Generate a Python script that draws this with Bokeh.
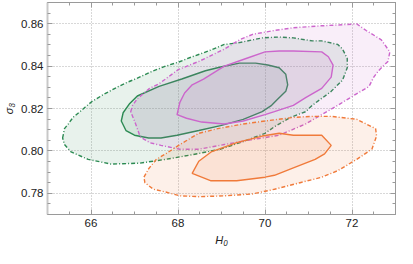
from bokeh.plotting import figure
from bokeh.models import LinearAxis, Range1d, FixedTicker, NumeralTickFormatter, CustomJSTickFormatter
from bokeh.embed import file_html
from bokeh.resources import INLINE

# ---- data (H0, sigma8) contour outlines ----
green_outer_h0 = [65.348, 65.391, 65.478, 65.587, 65.717, 65.870, 66.022, 66.304, 66.587, 66.804, 67.065, 67.391,
                  67.717, 68.000, 68.326, 68.696, 69.065, 69.413, 69.935, 70.326, 70.652, 71.087, 71.304, 71.674,
                  71.783, 71.891, 71.891, 71.783, 71.522, 71.087, 70.935, 70.587, 70.217, 70.000, 69.500, 68.978,
                  68.326, 67.717, 67.109, 66.457, 65.935, 65.543, 65.391]
green_outer_s8 = [0.8061, 0.8105, 0.8127, 0.8158, 0.8180, 0.8207, 0.8233, 0.8268, 0.8299, 0.8321, 0.8343, 0.8374,
                  0.8400, 0.8418, 0.8444, 0.8471, 0.8502, 0.8511, 0.8533, 0.8537, 0.8533, 0.8519, 0.8519, 0.8502,
                  0.8480, 0.8436, 0.8392, 0.8334, 0.8281, 0.8215, 0.8185, 0.8158, 0.8114, 0.8083, 0.8044, 0.8008,
                  0.7982, 0.7960, 0.7942, 0.7938, 0.7960, 0.7995, 0.8030]

green_inner_h0 = [66.696, 66.739, 66.891, 67.065, 67.565, 68.087, 68.630, 68.978, 69.413, 69.783, 70.065, 70.326,
                  70.478, 70.522, 70.478, 70.283, 70.152, 69.935, 69.500, 68.978, 68.478, 67.978, 67.609, 67.326,
                  67.000, 66.804]
green_inner_s8 = [0.8141, 0.8180, 0.8224, 0.8259, 0.8304, 0.8339, 0.8378, 0.8396, 0.8414, 0.8414, 0.8405, 0.8392,
                  0.8361, 0.8312, 0.8281, 0.8242, 0.8215, 0.8185, 0.8149, 0.8119, 0.8096, 0.8074, 0.8061, 0.8061,
                  0.8074, 0.8096]

magenta_outer_h0 = [66.913, 66.957, 67.065, 67.348, 67.565, 67.826, 68.000, 68.478, 69.065, 69.413, 69.717, 70.217,
                    70.652, 71.304, 71.674, 72.109, 72.326, 72.674, 72.870, 72.826, 72.609, 72.500, 72.391, 72.022,
                    71.674, 71.304, 70.935, 70.326, 69.674, 69.065, 68.478, 68.043, 67.609, 67.348, 67.130, 67.065,
                    67.000]
magenta_outer_s8 = [0.8185, 0.8215, 0.8246, 0.8295, 0.8317, 0.8356, 0.8383, 0.8422, 0.8480, 0.8524, 0.8550, 0.8568,
                    0.8581, 0.8590, 0.8594, 0.8599, 0.8568, 0.8524, 0.8467, 0.8422, 0.8378, 0.8348, 0.8304, 0.8259,
                    0.8215, 0.8171, 0.8127, 0.8074, 0.8052, 0.8030, 0.8008, 0.8008, 0.8026, 0.8039, 0.8066, 0.8105,
                    0.8141]

magenta_inner_h0 = [67.978, 68.043, 68.152, 68.326, 68.587, 69.065, 69.565, 70.000, 70.326, 70.652, 71.304, 71.457,
                    71.565, 71.522, 71.304, 70.935, 70.652, 70.217, 70.000, 69.500, 69.065, 68.543, 68.196]
magenta_inner_s8 = [0.8171, 0.8229, 0.8273, 0.8312, 0.8339, 0.8400, 0.8436, 0.8467, 0.8471, 0.8471, 0.8467, 0.8444,
                    0.8405, 0.8348, 0.8295, 0.8251, 0.8215, 0.8185, 0.8171, 0.8141, 0.8127, 0.8136, 0.8154]

orange_outer_h0 = [67.217, 67.326, 67.500, 67.717, 68.043, 68.478, 68.913, 69.500, 70.000, 70.652, 71.087, 71.522,
                   72.109, 72.543, 72.565, 72.457, 72.109, 71.674, 71.304, 70.804, 70.217, 69.717, 69.065, 68.478,
                   68.043, 67.717, 67.435, 67.239]
orange_outer_s8 = [0.7876, 0.7916, 0.7960, 0.7986, 0.8030, 0.8083, 0.8105, 0.8127, 0.8141, 0.8158, 0.8163, 0.8163,
                   0.8149, 0.8105, 0.8070, 0.8008, 0.7960, 0.7907, 0.7876, 0.7850, 0.7819, 0.7797, 0.7788, 0.7784,
                   0.7788, 0.7806, 0.7819, 0.7850]

orange_inner_h0 = [68.326, 68.478, 68.761, 69.348, 69.935, 70.326, 70.652, 71.304, 71.522, 71.370, 71.152, 70.652,
                   70.217, 70.000, 69.348, 68.761]
orange_inner_s8 = [0.7894, 0.7951, 0.7995, 0.8039, 0.8070, 0.8083, 0.8074, 0.8074, 0.8026, 0.7986, 0.7960, 0.7920,
                   0.7885, 0.7876, 0.7859, 0.7859]

x_ticks = [66, 68, 70, 72]
y_ticks = [0.78, 0.80, 0.82, 0.84, 0.86]
x_label = "H₀"
y_label = "σ₈"

GREEN = "#2b8a52"
MAGENTA = "#cc66cc"
ORANGE = "#f07a3a"
FRAME = "#9a9a9a"
FONT = "Liberation Sans"

p = figure(width=397, height=248, output_backend="svg", toolbar_location=None,
           x_range=Range1d(65, 73), y_range=Range1d(0.77, 0.87),
           min_border_left=0, min_border_right=2, min_border_top=2, min_border_bottom=0,
           x_axis_label=x_label, y_axis_label=y_label)
p.background_fill_color = "white"
p.outline_line_color = FRAME
p.outline_line_width = 1

for g in (p.xgrid[0], p.ygrid[0]):
    g.grid_line_color = "#b0b0b0"
    g.grid_line_dash = "1 2"
    g.grid_line_width = 1
p.xgrid[0].ticker = FixedTicker(ticks=x_ticks)
p.ygrid[0].ticker = FixedTicker(ticks=y_ticks)

x_minor = [65 + 0.5 * i for i in range(17)]
y_minor = [round(0.77 + 0.005 * i, 3) for i in range(21)]

def style_axis(ax, ticks, minor):
    ax.ticker = FixedTicker(ticks=ticks, minor_ticks=minor)
    ax.axis_line_color = FRAME
    ax.major_tick_line_color = FRAME
    ax.minor_tick_line_color = FRAME
    ax.major_tick_in = 5
    ax.major_tick_out = 0
    ax.minor_tick_in = 3
    ax.minor_tick_out = 0
    ax.major_label_text_font = FONT
    ax.major_label_text_font_size = "11.5px"
    ax.major_label_text_color = "#222222"
    ax.major_label_standoff = 4
    ax.axis_label_text_font = FONT
    ax.axis_label_text_font_size = "11px"
    ax.axis_label_text_font_style = "italic"
    ax.axis_label_text_color = "#222222"
    ax.axis_label_standoff = 4

style_axis(p.xaxis[0], x_ticks, x_minor)
style_axis(p.yaxis[0], y_ticks, y_minor)
p.yaxis[0].formatter = NumeralTickFormatter(format="0.00")
p.yaxis[0].axis_line_width = 2
p.yaxis[0].axis_line_color = "#c8c8c8"
p.yaxis[0].axis_label_standoff = 3

blank = CustomJSTickFormatter(code="return ''")
top = LinearAxis(formatter=blank)
style_axis(top, x_ticks, x_minor)
top.major_label_standoff = 0
p.add_layout(top, "above")
right = LinearAxis(formatter=blank)
style_axis(right, y_ticks, y_minor)
right.major_label_standoff = 0
p.add_layout(right, "right")

DASHDOT = "4 2 1 2"

def contour(xs, ys, color, dash):
    p.patch(xs, ys, fill_color=color, fill_alpha=0.11, line_color=color,
            line_width=1.4, line_dash=dash)

contour(green_outer_h0, green_outer_s8, GREEN, DASHDOT)
contour(green_inner_h0, green_inner_s8, GREEN, "solid")
contour(magenta_outer_h0, magenta_outer_s8, MAGENTA, DASHDOT)
contour(magenta_inner_h0, magenta_inner_s8, MAGENTA, "solid")
contour(orange_outer_h0, orange_outer_s8, ORANGE, DASHDOT)
contour(orange_inner_h0, orange_inner_s8, ORANGE, "solid")

open("out.html", "w").write(file_html(p, INLINE))
